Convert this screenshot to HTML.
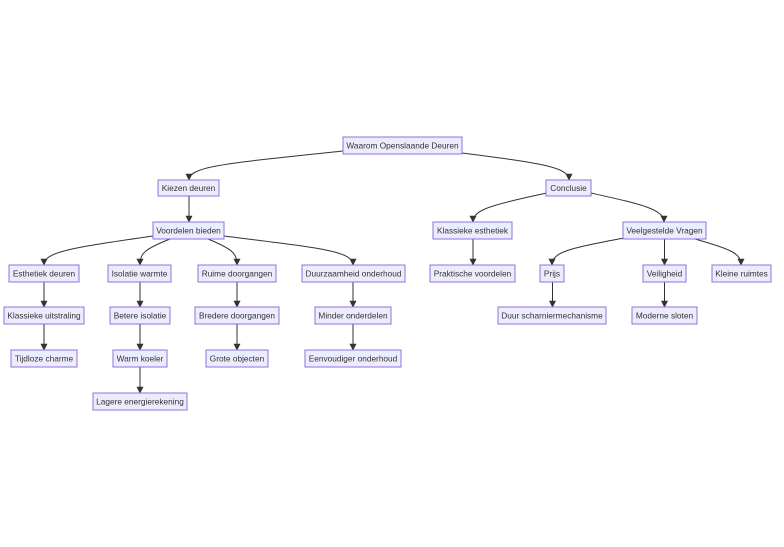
<!DOCTYPE html>
<html><head><meta charset="utf-8"><style>
html,body{margin:0;padding:0;background:#fff;width:784px;height:547px;overflow:hidden}
svg text{font-family:"Liberation Sans",Arial,sans-serif;font-size:8.3px;fill:#333;text-anchor:middle;dominant-baseline:central}
rect{fill:#ECECFF;stroke:#9370DB;stroke-width:1;shape-rendering:crispEdges}
path{fill:none;stroke:#333;stroke-width:1}
</style></head><body>
<svg width="784" height="547" viewBox="0 0 784 547" xmlns="http://www.w3.org/2000/svg">
<defs><marker id="a" viewBox="0 0 10 10" refX="9" refY="5" markerWidth="7" markerHeight="7" orient="auto-start-reverse" markerUnits="userSpaceOnUse"><path d="M0,0 L10,5 L0,10 z" style="fill:#333;stroke:none"/></marker></defs>
<g marker-end="url(#a)">
<path d="M343,151 C230,163 189,166 189,180"/>
<path d="M462,153 C540,163 569,167 569,180"/>
<path d="M189,196 L189,222"/>
<path d="M547,193 C490,205 473,210 473,222"/>
<path d="M591,193 C640,204 664,209 664,222"/>
<path d="M153,236 C70,248 44,252 44,265"/>
<path d="M170,239 C145,249 140,253 140,265"/>
<path d="M208,239 C232,249 237,253 237,265"/>
<path d="M224,236 C320,248 353,251 353,265"/>
<path d="M473,239 L473,265"/>
<path d="M624,238 C570,248 552,252 552,265"/>
<path d="M664.5,239 L664.5,265"/>
<path d="M695,239 C730,249 741,253 741,265"/>
<path d="M44,282 L44,307"/>
<path d="M140,282 L140,307"/>
<path d="M237,282 L237,307"/>
<path d="M353,282 L353,307"/>
<path d="M552.5,282 L552.5,307"/>
<path d="M664.5,282 L664.5,307"/>
<path d="M44,324 L44,350"/>
<path d="M140,324 L140,350"/>
<path d="M237,324 L237,350"/>
<path d="M353,324 L353,350"/>
<path d="M140,367 L140,393"/>
</g>
<rect x="343" y="137" width="119" height="17"/><text x="402.5" y="145.5">Waarom Openslaande Deuren</text>
<rect x="158" y="180" width="61" height="16"/><text x="188.5" y="188">Kiezen deuren</text>
<rect x="546" y="180" width="45" height="16"/><text x="568.5" y="188">Conclusie</text>
<rect x="153" y="222" width="71" height="17"/><text x="188.5" y="230.5">Voordelen bieden</text>
<rect x="433" y="222" width="79" height="17"/><text x="472.5" y="230.5">Klassieke esthetiek</text>
<rect x="623" y="222" width="83" height="17"/><text x="664.5" y="230.5">Veelgestelde Vragen</text>
<rect x="9" y="265" width="70" height="17"/><text x="44" y="273.5">Esthetiek deuren</text>
<rect x="108" y="265" width="63" height="17"/><text x="139.5" y="273.5">Isolatie warmte</text>
<rect x="198" y="265" width="78" height="17"/><text x="237" y="273.5">Ruime doorgangen</text>
<rect x="302" y="265" width="103" height="17"/><text x="353.5" y="273.5">Duurzaamheid onderhoud</text>
<rect x="430" y="265" width="85" height="17"/><text x="472.5" y="273.5">Praktische voordelen</text>
<rect x="540" y="265" width="24" height="17"/><text x="552" y="273.5">Prijs</text>
<rect x="643" y="265" width="43" height="17"/><text x="664.5" y="273.5">Veiligheid</text>
<rect x="712" y="265" width="59" height="17"/><text x="741.5" y="273.5">Kleine ruimtes</text>
<rect x="4" y="307" width="80" height="17"/><text x="44" y="315.5">Klassieke uitstraling</text>
<rect x="110" y="307" width="60" height="17"/><text x="140" y="315.5">Betere isolatie</text>
<rect x="195" y="307" width="84" height="17"/><text x="237" y="315.5">Bredere doorgangen</text>
<rect x="315" y="307" width="76" height="17"/><text x="353" y="315.5">Minder onderdelen</text>
<rect x="498" y="307" width="108" height="17"/><text x="552" y="315.5">Duur scharniermechanisme</text>
<rect x="632" y="307" width="65" height="17"/><text x="664.5" y="315.5">Moderne sloten</text>
<rect x="11" y="350" width="66" height="17"/><text x="44" y="358.5">Tijdloze charme</text>
<rect x="113" y="350" width="54" height="17"/><text x="140" y="358.5">Warm koeler</text>
<rect x="206" y="350" width="62" height="17"/><text x="237" y="358.5">Grote objecten</text>
<rect x="305" y="350" width="96" height="17"/><text x="353" y="358.5">Eenvoudiger onderhoud</text>
<rect x="93" y="393" width="94" height="17"/><text x="140" y="401.5">Lagere energierekening</text>
</svg>
</body></html>
